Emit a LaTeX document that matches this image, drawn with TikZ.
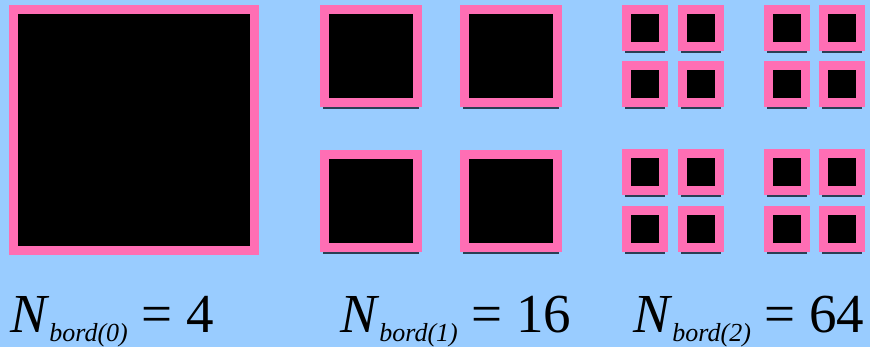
\documentclass[tikz,border=0pt]{standalone}
\usepackage{fontspec}
\setmainfont{Liberation Serif}
\newfontfamily\timesf{Liberation Serif}
\definecolor{skyback}{HTML}{99CCFF}
\definecolor{bordpink}{HTML}{FF6EB4}
\definecolor{shadowline}{HTML}{2B3F55}
\tikzset{
  pix/.style={x=1pt, y=-1pt},
  rim/.style={fill=bordpink},
  core/.style={fill=black},
  shd/.style={draw=shadowline, line width=1.2pt},
  lbl/.style={font=\timesf\fontsize{55}{55}\selectfont, anchor=base west, inner sep=0pt}
}
% x, y (top left), size
\newcommand\bordcell[3]{%
  \draw[shd] (#1+3,#2+#3+1) -- ++(#3-6,0);
  \fill[rim] (#1,#2) rectangle ++(#3,#3);
  \fill[core] (#1+9,#2+9) rectangle ++(#3-18,#3-18);
}
\newcommand\nbord[2]{\textit{N}\raisebox{-9pt}{\fontsize{26}{26}\selectfont\textit{bord(#1)}} = #2}

\begin{document}
\begin{tikzpicture}[pix]
    \path[use as bounding box, fill=skyback] (0,0) rectangle (870,347);

    \fill[rim] (9,5) rectangle (259,255);
    \fill[core] (18,14) rectangle (250,246);

    \foreach \x in {320,460} {
      \foreach \y in {5,150} {\bordcell{\x}{\y}{102}}
    }
    \foreach \x in {622,678,764,819} {
      \foreach \y in {5,61,149,206} {\bordcell{\x}{\y}{46}}
    }

    \node[lbl] (lvl0) at (10,333) {\nbord{0}{4}};
    \node[lbl] (lvl1) at (340,333) {\nbord{1}{16}};
    \node[lbl] (lvl2) at (633,333) {\nbord{2}{64}};
  \end{tikzpicture}
\end{document}
